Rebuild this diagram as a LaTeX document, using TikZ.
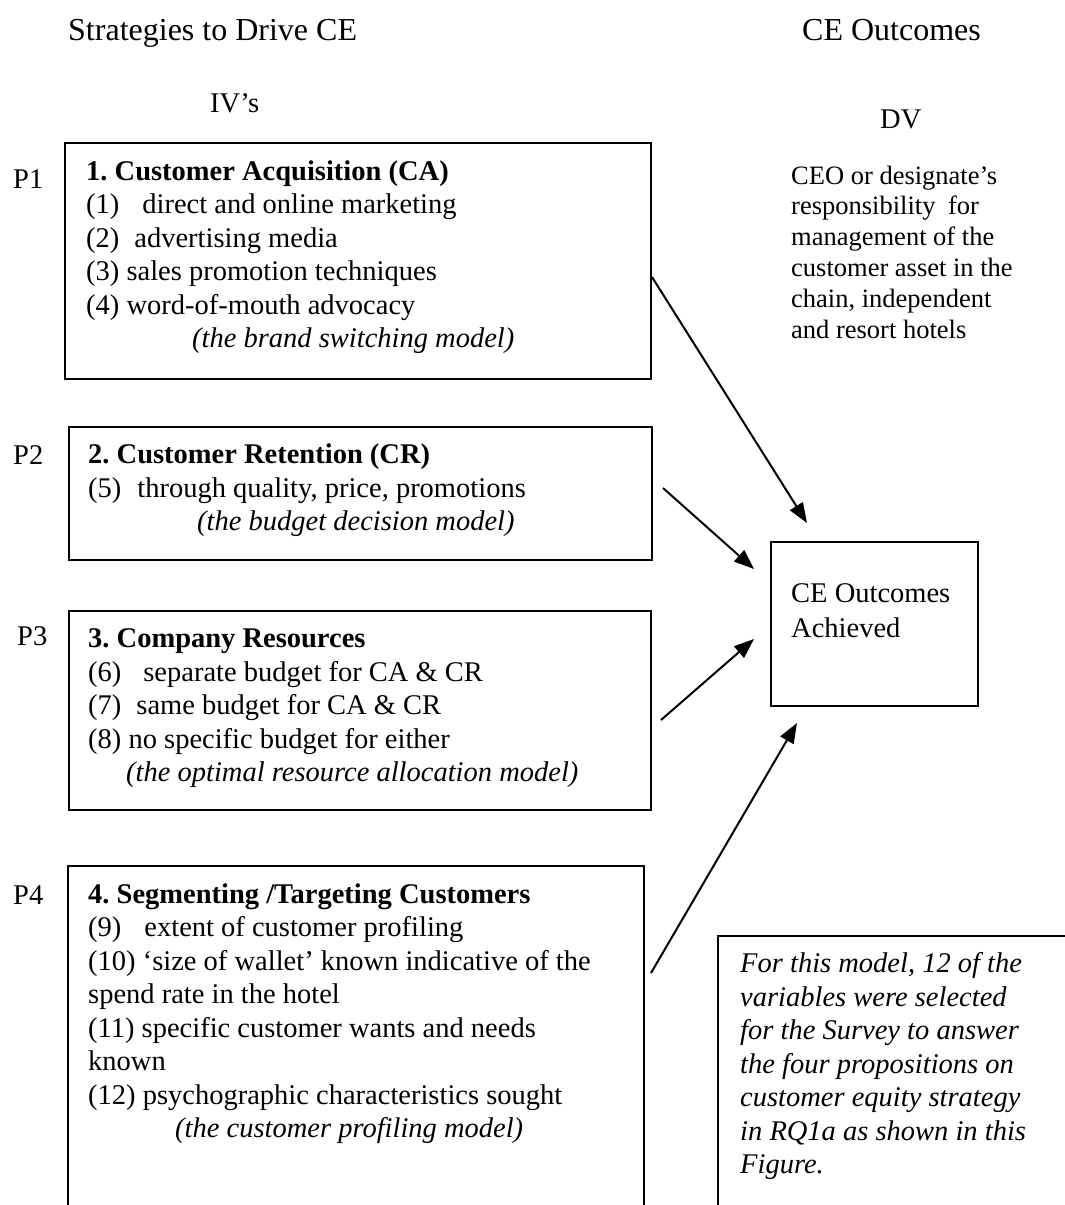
\documentclass[tikz,border=0pt]{standalone}
\usepackage{fontspec}
\setmainfont{Liberation Serif}
\usetikzlibrary{arrows.meta}
\frenchspacing
\begin{document}
\begin{tikzpicture}[x=1pt,y=-1pt,
  frame/.style={draw, line width=2.2pt, inner sep=0pt, anchor=north west},
  edge/.style={draw, line width=2.2pt},
  ln/.style={anchor=base west, inner sep=0pt, font=\fontsize{28.5}{33.5}\selectfont},
  hd/.style={ln, font=\bfseries\fontsize{28.5}{33.5}\selectfont},
  it/.style={ln, font=\itshape\fontsize{28.5}{33.5}\selectfont},
  big/.style={ln, font=\fontsize{32}{38}\selectfont},
  dvtext/.style={ln, font=\fontsize{26.5}{31}\selectfont},
  link/.style={line width=2pt, -{Triangle[length=20pt,width=15pt]}},
]
\useasboundingbox (0,0) rectangle (1065,1205);

% column headings
\node[big] (hleft)  at (68,40)  {Strategies to Drive CE};
\node[big] (hright) at (802,40) {CE Outcomes};
\node[ln]  (iv)     at (210,112) {IV’s};
\node[ln]  (dv)     at (880,128) {DV};

% dependent variable description
\node[dvtext] (dv1) at (791,184)   {CEO or designate’s};
\node[dvtext] (dv2) at (791,214.8) {responsibility\hspace{6pt} for};
\node[dvtext] (dv3) at (791,245.6) {management of the};
\node[dvtext] (dv4) at (791,276.4) {customer asset in the};
\node[dvtext] (dv5) at (791,307.2) {chain, independent};
\node[dvtext] (dv6) at (791,338)   {and resort hotels};

% strategy boxes
\node[frame, minimum width=586pt, minimum height=236pt] (b1) at (64,142) {};
\node[frame, minimum width=583pt, minimum height=133pt] (b2) at (68,426) {};
\node[frame, minimum width=582pt, minimum height=199pt] (b3) at (68,610) {};
\draw[edge] (68,1212) -- (68,866) -- (644,866) -- (644,1212);

% outcome box
\node[frame, minimum width=207pt, minimum height=164pt] (out) at (770,541) {};
\node[ln] (out1) at (791,602) {CE Outcomes};
\node[ln] (out2) at (791,637) {Achieved};

% proposition labels
\node[ln] (p1) at (13,188) {P1};
\node[ln] (p2) at (13,464) {P2};
\node[ln] (p3) at (17,645) {P3};
\node[ln] (p4) at (13,904) {P4};

% box 1
\node[hd] (t1)  at (86,180)   {1. Customer Acquisition (CA)};
\node[ln] (t1a) at (86,213.5) {(1)\hspace{23pt}direct and online marketing};
\node[ln] (t1b) at (86,247)   {(2)\hspace{15pt}advertising media};
\node[ln] (t1c) at (86,280.5) {(3) sales promotion techniques};
\node[ln] (t1d) at (86,314)   {(4) word-of-mouth advocacy};
\node[it] (t1e) at (192,347.5) {(the brand switching model)};

% box 2
\node[hd] (t2)  at (88,463) {2. Customer Retention (CR)};
\node[ln] (t2a) at (88,497) {(5)\hspace{16pt}through quality, price, promotions};
\node[it] (t2b) at (197,530) {(the budget decision model)};

% box 3
\node[hd] (t3)  at (88,647.5) {3. Company Resources};
\node[ln] (t3a) at (88,681)   {(6)\hspace{22pt}separate budget for CA \& CR};
\node[ln] (t3b) at (88,714.5) {(7)\hspace{15pt}same budget for CA \& CR};
\node[ln] (t3c) at (88,748)   {(8) no specific budget for either};
\node[it] (t3d) at (126,781.5) {(the optimal resource allocation model)};

% box 4
\node[hd] (t4)  at (88,903)    {4. Segmenting /Targeting Customers};
\node[ln] (t4a) at (88,936.5)  {(9)\hspace{23pt}extent of customer profiling};
\node[ln] (t4b) at (88,970)    {(10) ‘size of wallet’ known indicative of the};
\node[ln] (t4c) at (88,1003.5) {spend rate in the hotel};
\node[ln] (t4d) at (88,1037)   {(11) specific customer wants and needs};
\node[ln] (t4e) at (88,1070.5) {known};
\node[ln] (t4f) at (88,1104)   {(12) psychographic characteristics sought};
\node[it] (t4g) at (175,1137.5) {(the customer profiling model)};

% explanatory note
\draw[edge] (718,1212) -- (718,936) -- (1072,936);
\node[it] (n1) at (740,972)    {For this model, 12 of the};
\node[it] (n2) at (740,1006)   {variables were selected};
\node[it] (n3) at (740,1039.5) {for the Survey to answer};
\node[it] (n4) at (740,1073)   {the four propositions on};
\node[it] (n5) at (740,1106.5) {customer equity strategy};
\node[it] (n6) at (740,1140)   {in RQ1a as shown in this};
\node[it] (n7) at (740,1173.5) {Figure.};

% connectors into the outcome box
\coordinate (s1) at (652,277);  \coordinate (e1) at (807,523);
\coordinate (s2) at (663,488);  \coordinate (e2) at (754,569);
\coordinate (s3) at (661,720);  \coordinate (e3) at (754,639);
\coordinate (s4) at (651,973);  \coordinate (e4) at (797,723);
\draw[link] (s1) -- (e1);
\draw[link] (s2) -- (e2);
\draw[link] (s3) -- (e3);
\draw[link] (s4) -- (e4);
\end{tikzpicture}
\end{document}
